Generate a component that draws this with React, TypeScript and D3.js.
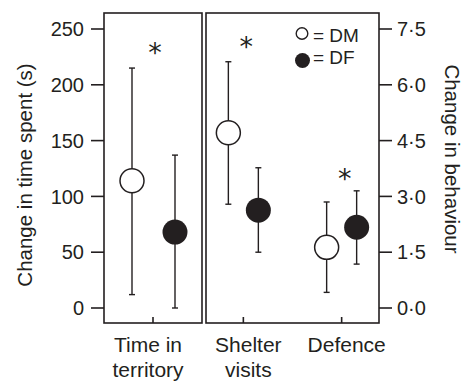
import * as d3 from "d3"

// category labels (two lines each)
const leftCategories = ["Time in territory"]
const rightCategories = ["Shelter visits", "Defence"]
const categoryLines: Record<string, string[]> = {
  "Time in territory": ["Time in", "territory"],
  "Shelter visits": ["Shelter", "visits"],
  Defence: ["Defence"],
}

// left panel: change in time spent (s)
const leftDmMean = [114]
const leftDmLow = [12]
const leftDmHigh = [215]
const leftDfMean = [68]
const leftDfLow = [0]
const leftDfHigh = [137]
const leftStars = [235]

// right panel: change in behaviour
const rightDmMean = [4.71, 1.63]
const rightDmLow = [2.79, 0.42]
const rightDmHigh = [6.62, 2.85]
const rightDfMean = [2.63, 2.17]
const rightDfLow = [1.5, 1.18]
const rightDfHigh = [3.77, 3.15]
const rightStars = [7.2, 3.66]

const leftTicks = [0, 50, 100, 150, 200, 250]
const rightTicks = [0, 1.5, 3, 4.5, 6, 7.5]

const FONT = "'Liberation Sans', Arial, sans-serif"

export default function App() {
  const width = 463
  const height = 381
  const top = 13
  const bottom = 323

  const yLeft = d3.scaleLinear().domain([0, 250]).range([308, 29])
  const yRight = d3.scaleLinear().domain([0, 7.5]).range([308, 29])

  const xLeft = d3.scalePoint<string>().domain(leftCategories).range([104, 202]).padding(0.5)
  const xRight = d3.scalePoint<string>().domain(rightCategories).range([206, 379]).padding(0.38)

  const fmtRight = (v: number) => d3.format(".1f")(v).replace(".", "·")

  const panels = [
    {
      key: "left",
      x: xLeft,
      y: yLeft,
      cats: leftCategories,
      dm: [leftDmMean, leftDmLow, leftDmHigh],
      df: [leftDfMean, leftDfLow, leftDfHigh],
      stars: leftStars,
      dodgeL: 21,
      dodgeR: 22,
      starDx: 2,
      labelDx: -5,
    },
    {
      key: "right",
      x: xRight,
      y: yRight,
      cats: rightCategories,
      dm: [rightDmMean, rightDmLow, rightDmHigh],
      df: [rightDfMean, rightDfLow, rightDfHigh],
      stars: rightStars,
      dodgeL: 15,
      dodgeR: 15,
      starDx: 3,
      labelDx: 5,
    },
  ]

  const errorBar = (cx: number, y: d3.ScaleLinear<number, number>, lo: number, hi: number) => (
    <g>
      <line x1={cx} x2={cx} y1={y(lo)} y2={y(hi)} stroke="#231f20" strokeWidth={1.4} />
      <line x1={cx - 3} x2={cx + 3} y1={y(lo)} y2={y(lo)} stroke="#231f20" strokeWidth={1.4} />
      <line x1={cx - 3} x2={cx + 3} y1={y(hi)} y2={y(hi)} stroke="#231f20" strokeWidth={1.4} />
    </g>
  )

  return (
    <svg
      width={width}
      height={height}
      style={{ position: "absolute", left: 0, top: 0, background: "#fff" }}
      fontFamily={FONT}
    >
      {/* panel frames */}
      {panels.map((p) => {
        const [r0, r1] = p.x.range()
        return (
          <rect
            key={p.key}
            x={r0}
            y={top}
            width={r1 - r0}
            height={bottom - top}
            fill="none"
            stroke="#231f20"
            strokeWidth={1.6}
          />
        )
      })}

      {/* left axis */}
      {leftTicks.map((t) => (
        <g key={t}>
          <line x1={91} x2={104} y1={yLeft(t)} y2={yLeft(t)} stroke="#231f20" strokeWidth={1.6} />
          <text x={84} y={yLeft(t)} dy="0.36em" textAnchor="end" fontSize={20} fill="#231f20">
            {t}
          </text>
        </g>
      ))}
      <text
        transform={`translate(32,175) rotate(-90)`}
        textAnchor="middle"
        fontSize={20.5}
        fill="#231f20"
      >
        Change in time spent (s)
      </text>

      {/* right axis */}
      {rightTicks.map((t) => (
        <g key={t}>
          <line x1={379} x2={392} y1={yRight(t)} y2={yRight(t)} stroke="#231f20" strokeWidth={1.6} />
          <text x={397} y={yRight(t)} dy="0.36em" textAnchor="start" fontSize={20} fill="#231f20">
            {fmtRight(t)}
          </text>
        </g>
      ))}
      <text
        transform={`translate(445,159) rotate(90)`}
        textAnchor="middle"
        fontSize={20.5}
        fill="#231f20"
      >
        Change in behaviour
      </text>

      {panels.map((p) => (
        <g key={p.key}>
          {p.cats.map((c, i) => {
            const cx = p.x(c) as number
            const [dmM, dmL, dmH] = p.dm
            const [dfM, dfL, dfH] = p.df
            return (
              <g key={c}>
                {/* inward tick */}
                <line x1={cx} x2={cx} y1={bottom} y2={bottom - 6} stroke="#231f20" strokeWidth={1.6} />
                {/* category label */}
                <text textAnchor="middle" fontSize={21} fill="#231f20">
                  {categoryLines[c].map((line, j) => (
                    <tspan key={j} x={cx + p.labelDx} y={352 + j * 24.5}>
                      {line}
                    </tspan>
                  ))}
                </text>
                {errorBar(cx - p.dodgeL, p.y, dmL[i], dmH[i])}
                <circle
                  cx={cx - p.dodgeL}
                  cy={p.y(dmM[i])}
                  r={12}
                  fill="#fff"
                  stroke="#231f20"
                  strokeWidth={1.5}
                />
                {errorBar(cx + p.dodgeR, p.y, dfL[i], dfH[i])}
                <circle cx={cx + p.dodgeR} cy={p.y(dfM[i])} r={12.5} fill="#231f20" />
                <text
                  x={cx + p.starDx}
                  y={p.y(p.stars[i])}
                  dy="0.6em"
                  textAnchor="middle"
                  fontSize={27}
                  fontFamily="'DejaVu Sans', sans-serif"
                  fill="#231f20"
                >
                  *
                </text>
              </g>
            )
          })}
        </g>
      ))}

      {/* legend */}
      <circle cx={302} cy={33.5} r={5.8} fill="#fff" stroke="#231f20" strokeWidth={1.4} />
      <text x={313} y={42} fontSize={19} fill="#231f20">
        = DM
      </text>
      <circle cx={302.5} cy={60.5} r={7.5} fill="#231f20" />
      <text x={313} y={63.5} fontSize={19} fill="#231f20">
        = DF
      </text>
    </svg>
  )
}
